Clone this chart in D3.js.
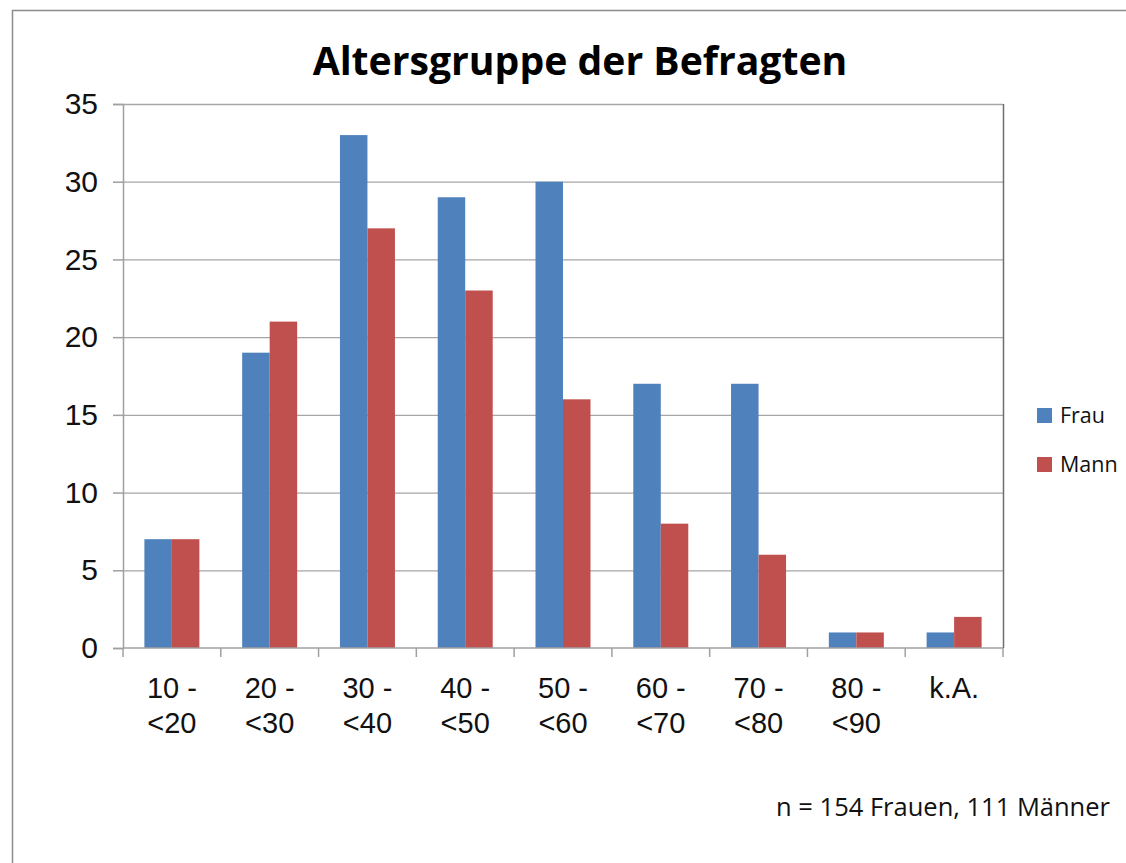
<!DOCTYPE html>
<html><head><meta charset="utf-8">
<script src="https://cdn.jsdelivr.net/npm/d3@7"></script>
<style>body{margin:0;background:#fff}svg{display:block}</style>
</head><body>
<svg id="c" width="1126" height="863"></svg>
<script>
const categories = [["10 -","<20"],["20 -","<30"],["30 -","<40"],["40 -","<50"],["50 -","<60"],["60 -","<70"],["70 -","<80"],["80 -","<90"],["k.A."]];
const seriesNames = ["Frau","Mann"];
const frau = [7,19,33,29,30,17,17,1,1];
const mann = [7,21,27,23,16,8,6,1,2];
const yTicks = [0,5,10,15,20,25,30,35];
const colors = ["#4F81BD","#C0504D"];
const title = "Altersgruppe der Befragten";
const note = "n = 154 Frauen, 111 Männer";

const svg = d3.select("#c");
svg.append("rect").attr("x",12.5).attr("y",10.5).attr("width",1130).attr("height",870)
  .attr("fill","#fff").attr("stroke","#8c8c8c").attr("stroke-width",1.5);

const L=123, R=1003, T=104, B=648;
const idx = d3.range(categories.length);
const x = d3.scaleBand().domain(idx).range([L,R]).paddingInner(0).paddingOuter(0);
const inner = d3.scaleBand().domain(seriesNames).range([0,x.bandwidth()]).paddingInner(0).paddingOuter(0.778);
const y = d3.scaleLinear().domain([0,35]).range([B,T]);

// gridlines
svg.append("g").selectAll("line").data(yTicks.filter(d=>d>0)).join("line")
  .attr("x1",L).attr("x2",R).attr("y1",d=>y(d)+0.5).attr("y2",d=>y(d)+0.5)
  .attr("stroke","#a6a6a6").attr("stroke-width",1.3);

// bars
const series=[frau,mann];
series.forEach((vals,si)=>{
  svg.append("g").selectAll("rect").data(vals).join("rect")
    .attr("x",(d,i)=>x(i)+inner(seriesNames[si]))
    .attr("width",inner.bandwidth())
    .attr("y",d=>y(d)).attr("height",d=>B-y(d))
    .attr("fill",colors[si]);
});

// plot right border
svg.append("line").attr("x1",R+0.5).attr("x2",R+0.5).attr("y1",T).attr("y2",B)
  .attr("stroke","#6e6e6e").attr("stroke-width",1.5);

// y axis
const ya = svg.append("g").attr("transform",`translate(${L},0)`)
  .call(d3.axisLeft(y).tickValues(yTicks).tickSize(10).tickPadding(15));
ya.select(".domain").attr("stroke","#a0a0a0").attr("stroke-width",1.5);
ya.selectAll(".tick line").attr("stroke","#a0a0a0").attr("stroke-width",1.5);
ya.selectAll("text").attr("font-family","'Liberation Sans',Arial,sans-serif").attr("font-size",30).attr("fill","#111");

// x axis
const xa = svg.append("g").attr("transform",`translate(0,${B})`);
xa.append("line").attr("x1",L).attr("x2",R).attr("stroke","#a0a0a0").attr("stroke-width",1.5);
xa.selectAll("line.t").data(d3.range(categories.length+1)).join("line").attr("class","t")
  .attr("x1",d=>L+d*x.step()).attr("x2",d=>L+d*x.step()).attr("y1",0).attr("y2",9)
  .attr("stroke","#a0a0a0").attr("stroke-width",1.5);
const xt = xa.selectAll("text").data(categories).join("text")
  .attr("x",(d,i)=>x(i)+x.bandwidth()/2).attr("y",50)
  .attr("text-anchor","middle").attr("font-family","'Liberation Sans',Arial,sans-serif")
  .attr("font-size",29).attr("fill","#111");
xt.each(function(d){
  const t=d3.select(this);
  d.forEach((s,k)=>t.append("tspan").attr("x",t.attr("x")).attr("dy",k?35:0).text(s));
});

// title
const tt = svg.append("text").attr("x",580).attr("y",75).attr("text-anchor","middle")
  .attr("font-family","'Open Sans',sans-serif").attr("font-weight","bold").attr("font-size",40)
  .attr("fill","#000").text(title);
function fit(sel,target){const w=sel.node().getComputedTextLength();const fs=+sel.attr("font-size");sel.attr("font-size",fs*target/w);}
fit(tt,535);

// legend
const lg = svg.append("g");
seriesNames.forEach((n,i)=>{
  const yy = 408 + i*49;
  lg.append("rect").attr("x",1037).attr("y",yy).attr("width",15).attr("height",15).attr("fill",colors[i]);
  const t = lg.append("text").attr("x",1060).attr("y",yy+15).attr("font-family","'Open Sans',sans-serif")
    .attr("font-size",20).attr("fill","#111").text(n);
});
fit(lg.select("text"),45);
lg.selectAll("text").attr("font-size",lg.select("text").attr("font-size"));

// note
const nt = svg.append("text").attr("x",1110).attr("y",816).attr("text-anchor","end")
  .attr("font-family","'Open Sans',sans-serif").attr("font-size",20).attr("fill","#111").text(note);
fit(nt,334);
</script>
</body></html>
